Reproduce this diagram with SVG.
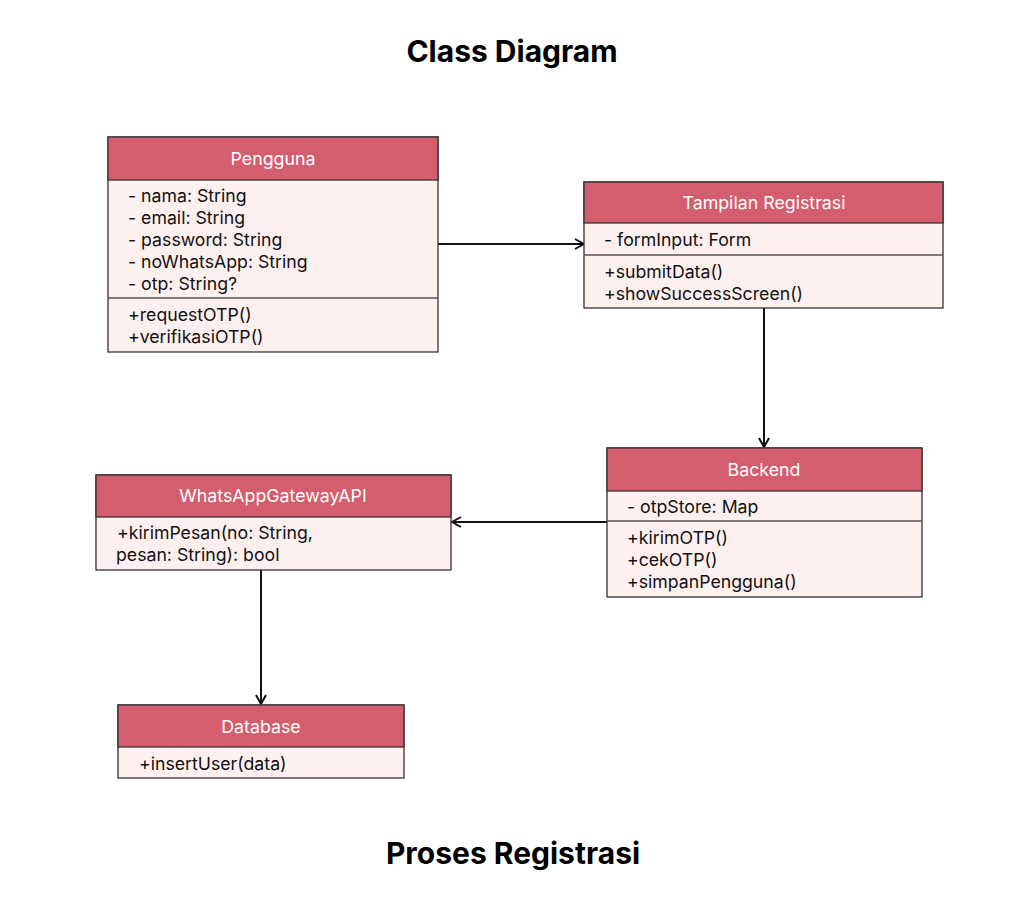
<svg xmlns="http://www.w3.org/2000/svg" width="1020" height="920" viewBox="0 0 1020 920">
<style>
.bg{fill:#ffffff}
.hd{fill:#d45d6e;stroke:#333;stroke-width:1.3}
.bd{fill:#fff0f0;stroke:#333;stroke-width:1.3}
.dv{stroke:#555;stroke-width:1.3}
.ht{font-family:Inter,"Noto Sans","Liberation Sans",sans-serif;font-size:17.8px;fill:#ffffff;text-anchor:middle}
.tx{font-family:Inter,"Noto Sans","Liberation Sans",sans-serif;font-size:17.7px;fill:#111}
.ti{font-family:Inter,"Noto Sans","Liberation Sans",sans-serif;font-size:30px;font-weight:bold;fill:#000;text-anchor:middle}
.cn{stroke:#111;stroke-width:2;fill:none;marker-end:url(#ah)}
</style>
<defs>
<marker id="ah" viewBox="0 0 12 12" refX="11" refY="6" markerWidth="12" markerHeight="12" markerUnits="userSpaceOnUse" orient="auto">
<path d="M2,1 L11,6 L2,11" fill="none" stroke="#111" stroke-width="2"/>
</marker>
</defs>
<rect class="bg" x="0" y="0" width="1020" height="920"/>
<text class="ti" x="512" y="62">Class Diagram</text>
<text class="ti" x="513" y="864">Proses Registrasi</text>

<g id="connectors">
<line class="cn" x1="438" y1="244" x2="584" y2="244"/>
<line class="cn" x1="764" y1="308" x2="764" y2="447"/>
<line class="cn" x1="607" y1="522" x2="452" y2="522"/>
<line class="cn" x1="261" y1="570" x2="261" y2="704"/>
</g>

<g id="pengguna">
<rect class="bd" x="108" y="137" width="330" height="215"/>
<rect class="hd" x="108" y="137" width="330" height="43"/>
<line class="dv" x1="108" y1="298" x2="438" y2="298"/>
<text class="ht" x="273" y="165">Pengguna</text>
<text class="tx" x="128" y="202">- nama: String</text>
<text class="tx" x="128" y="224">- email: String</text>
<text class="tx" x="128" y="246">- password: String</text>
<text class="tx" x="128" y="268">- noWhatsApp: String</text>
<text class="tx" x="128" y="290">- otp: String?</text>
<text class="tx" x="128" y="321">+requestOTP()</text>
<text class="tx" x="128" y="343">+verifikasiOTP()</text>
</g>

<g id="tampilan">
<rect class="bd" x="584" y="182" width="359" height="126"/>
<rect class="hd" x="584" y="182" width="359" height="41"/>
<line class="dv" x1="584" y1="255" x2="943" y2="255"/>
<text class="ht" x="764" y="209">Tampilan Registrasi</text>
<text class="tx" x="604" y="246">- formInput: Form</text>
<text class="tx" x="604" y="278">+submitData()</text>
<text class="tx" x="604" y="300">+showSuccessScreen()</text>
</g>

<g id="backend">
<rect class="bd" x="607" y="448" width="315" height="149"/>
<rect class="hd" x="607" y="448" width="315" height="43"/>
<line class="dv" x1="607" y1="521" x2="922" y2="521"/>
<text class="ht" x="764" y="476">Backend</text>
<text class="tx" x="627" y="513">- otpStore: Map</text>
<text class="tx" x="627" y="544">+kirimOTP()</text>
<text class="tx" x="627" y="566">+cekOTP()</text>
<text class="tx" x="627" y="588">+simpanPengguna()</text>
</g>

<g id="whatsapp">
<rect class="bd" x="96" y="475" width="355" height="95"/>
<rect class="hd" x="96" y="475" width="355" height="42"/>
<text class="ht" x="273" y="502">WhatsAppGatewayAPI</text>
<text class="tx" x="117" y="539">+kirimPesan(no: String,</text>
<text class="tx" x="116" y="561">pesan: String): bool</text>
</g>

<g id="database">
<rect class="bd" x="118" y="705" width="286" height="73"/>
<rect class="hd" x="118" y="705" width="286" height="42"/>
<text class="ht" x="261" y="733">Database</text>
<text class="tx" x="139" y="770">+insertUser(data)</text>
</g>
</svg>
